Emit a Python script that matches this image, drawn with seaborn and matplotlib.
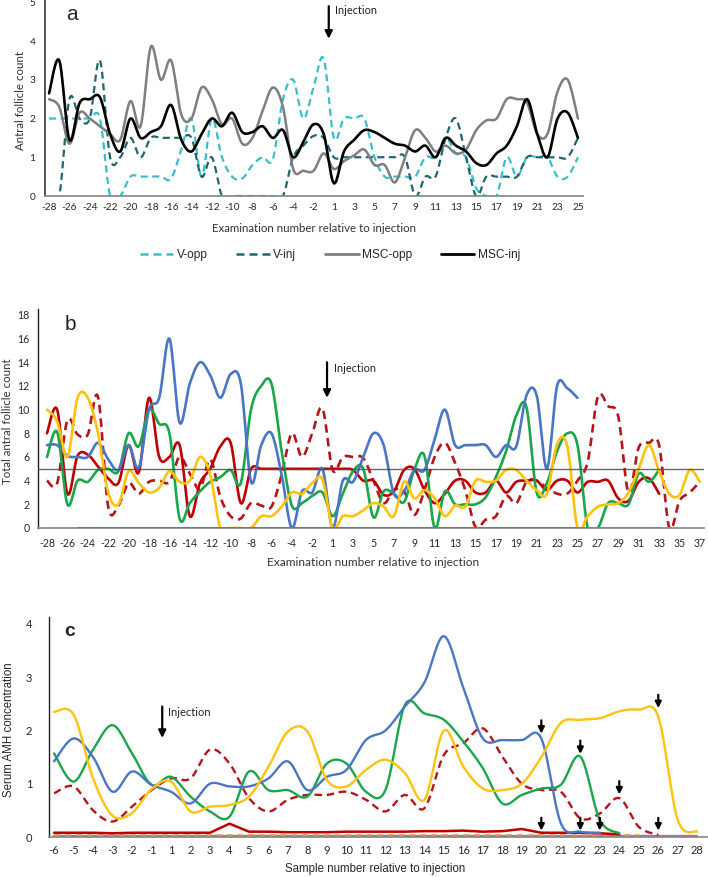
import numpy as np
import matplotlib
matplotlib.use("Agg")
import matplotlib.pyplot as plt
import seaborn as sns

# ---------------- panel a : antral follicle count per ovary ----------------
a_labels = list(range(-28, 0)) + list(range(1, 26))
a_v_opp = [2.0, 2.0, 2.0, 2.0, 2.0, 2.0, 0.0, 0.0, 0.5, 0.5, 0.5, 0.5, 0.45, 1.2,
           2.0, 0.5, 2.0, 1.0, 0.5, 0.45, 0.8, 1.0, 0.95, 2.5, 3.0, 2.0, 2.8, 3.55,
           1.5, 2.0, 2.0, 2.0, 1.0, 0.5, 0.5, 0.5, 0.5, 1.0, 1.0, 1.5, 1.1, 1.0,
           0.2, 0.0, 0.0, 1.0, 0.5, 1.0, 1.0, 1.0, 0.5, 0.5, 1.0]
a_v_inj = [0.0, 0.0, 2.5, 2.0, 2.0, 3.5, 1.0, 1.0, 1.5, 1.0, 1.5, 1.5, 1.5, 1.5,
           1.5, 0.5, 1.0, 0.0, 0.0, 0.0, 0.0, 0.0, 0.0, 0.0, 1.0, 1.3, 1.55, 1.5,
           1.0, 1.0, 1.0, 1.0, 1.0, 1.0, 1.0, 1.0, 0.0, 0.5, 0.5, 1.5, 2.0, 1.0,
           0.0, 0.5, 0.5, 0.5, 0.5, 1.0, 1.0, 1.0, 1.0, 1.0, 1.5]
a_msc_opp = [2.5, 2.3, 1.35, 2.15, 2.0, 1.8, 1.6, 1.45, 2.45, 1.8, 3.85, 3.0, 3.5, 2.1,
             2.0, 2.8, 2.5, 1.85, 2.0, 1.35, 1.5, 2.2, 2.8, 2.3, 0.7, 0.65, 0.65, 1.1,
             0.7, 0.9, 1.05, 1.2, 0.8, 0.8, 0.35, 1.0, 1.7, 1.5, 1.15, 1.3, 1.1, 1.2,
             1.7, 1.95, 2.0, 2.5, 2.5, 2.4, 1.6, 1.6, 2.7, 3.0, 2.0]
a_msc_inj = [2.65, 3.5, 1.45, 2.4, 2.5, 2.55, 1.6, 1.15, 2.0, 1.5, 1.65, 1.8, 2.35, 1.45,
             1.15, 1.6, 2.0, 1.8, 2.15, 1.65, 1.65, 1.8, 1.5, 1.7, 1.0, 1.4, 1.85, 1.6,
             0.33, 1.15, 1.45, 1.7, 1.65, 1.5, 1.35, 1.3, 1.15, 1.3, 1.0, 1.5, 1.3, 1.15,
             0.85, 0.8, 1.1, 1.3, 1.8, 2.5, 1.6, 1.0, 2.0, 2.15, 1.5]

# ---------------- panel b : total antral follicle count ----------------
b_labels = list(range(-28, 0)) + list(range(1, 38))
b_blue = [7.0, 7.0, 6.1, 6.0, 6.0, 7.2, 5.8, 4.9, 7.0, 5.1, 10.0, 11.0, 16.0, 8.9,
          12.2, 14.0, 12.9, 11.0, 13.0, 12.2, 3.9, 7.0, 8.0, 4.5, 0.0, 3.1, 3.0, 5.0,
          0.0, 4.0, 3.9, 6.0, 8.0, 7.0, 2.9, 3.1, 4.9, 4.9, 7.5, 10.0, 7.0, 7.0,
          7.0, 7.0, 6.0, 7.0, 6.9, 11.2, 11.2, 5.0, 12.0, 11.8, 11.0]
b_green = [6.0, 8.1, 2.0, 4.0, 3.9, 4.9, 5.0, 4.8, 8.0, 6.9, 10.0, 8.8, 8.0, 0.8,
           2.1, 3.1, 3.9, 4.3, 4.9, 3.8, 10.0, 12.0, 12.2, 6.5, 1.9, 2.1, 2.7, 3.0,
           1.0, 2.9, 4.8, 5.0, 0.9, 3.1, 2.9, 2.2, 4.9, 6.1, 0.0, 3.1, 2.0, 2.0,
           2.0, 2.6, 4.3, 6.5, 9.5, 10.2, 3.0, 3.8, 6.5, 8.0, 7.0, 0.0, 0.0, 2.1,
           2.1, 2.0, 4.6, 3.9, 4.9]
b_red = [8.0, 10.0, 2.9, 6.1, 6.2, 5.2, 4.2, 3.8, 7.0, 4.7, 11.0, 6.0, 6.0, 7.0,
         1.0, 3.8, 5.0, 6.9, 7.2, 2.1, 5.0, 5.0, 5.0, 5.0, 5.0, 5.0, 5.0, 5.0,
         5.0, 5.0, 4.9, 4.0, 4.0, 2.8, 3.1, 4.9, 5.0, 3.2, 2.1, 2.9, 4.0, 4.0,
         3.0, 3.0, 4.0, 3.0, 3.9, 4.0, 4.0, 3.2, 4.0, 4.0, 3.0, 3.9, 3.9, 4.0,
         2.5, 2.3, 3.9, 4.2, 2.9]
b_red_dash = [4.0, 3.8, 9.1, 7.9, 7.9, 11.1, 1.8, 1.9, 3.8, 2.9, 3.9, 4.0, 3.9, 6.0,
              4.6, 3.3, 5.8, 2.6, 1.0, 0.8, 2.1, 1.9, 1.8, 4.5, 8.0, 6.0, 8.0, 10.1,
              4.9, 6.0, 6.0, 5.9, 4.0, 2.1, 3.2, 3.1, 1.1, 3.2, 6.0, 7.2, 5.5, 3.2,
              0.1, 0.7, 1.0, 2.7, 2.1, 3.9, 4.0, 3.4, 2.9, 2.9, 4.0, 5.6, 11.1, 10.3,
              9.4, 3.0, 6.8, 7.2, 7.0, 0.0, 2.3, 3.0, 3.9]
b_yellow = [10.0, 9.0, 6.0, 11.0, 11.0, 8.0, 3.0, 2.0, 4.8, 3.8, 3.0, 3.4, 4.8, 3.9,
            4.0, 6.0, 4.5, 0.0, 0.0, 0.0, 0.0, 1.0, 1.0, 1.8, 3.0, 2.9, 3.8, 4.1,
            0.0, 1.0, 1.0, 1.5, 2.1, 1.8, 1.0, 3.9, 2.5, 3.2, 2.5, 1.0, 1.9, 1.8,
            4.0, 3.9, 4.0, 4.9, 4.9, 4.0, 3.2, 2.9, 7.1, 6.9, 0.0, 1.0, 1.8, 2.0,
            2.1, 3.0, 5.0, 7.0, 4.8, 2.9, 2.8, 4.9, 3.9]
b_orange = [0.0, 0.0, 0.0, 0.0]                      # -28 .. -25
b_brown = [0.0, 0.0, 0.0, 0.0, 0.0, 0.0, 0.0, 0.0, 0.0, 0.0, 0.0, 0.0, 0.0,
           0.0, 0.0, 0.0, 0.0, 0.0, 0.0, 0.0, 0.0, 0.0, 0.0, 0.0, 0.0, 0.0,
           0.0, 0.0, 0.0, 0.0, 0.0, 0.0, 0.0, 0.0, 0.0, 0.0, 0.0, 0.0, 0.0,
           0.0, 0.0, 0.0, 0.0, 0.0, 0.0, 0.0, 0.0, 0.0, 0.0, 0.0, 0.0]   # -25 .. 25
b_magenta = [0.0, 0.0, 0.0, 0.0, 0.0, 0.0, 0.0, 0.0, 0.0]          # 25 .. 33
b_threshold = 5

# ---------------- panel c : serum AMH ----------------
c_labels = list(range(-6, 0)) + list(range(1, 29))
c_yellow = [2.35, 2.3, 1.1, 0.4, 0.45, 0.9, 1.04, 0.48, 0.57, 0.6, 0.76, 1.32, 1.98,
            1.98, 1.07, 0.95, 1.26, 1.45, 1.2, 0.7, 2.0, 1.32, 0.91, 0.88, 1.0, 1.5,
            2.14, 2.2, 2.23, 2.36, 2.39, 2.26, 0.32, 0.1]
c_blue = [1.42, 1.85, 1.5, 0.85, 1.23, 0.98, 0.85, 0.63, 1.0, 0.95, 0.95, 1.1, 1.42,
          0.88, 1.13, 1.26, 1.82, 2.0, 2.45, 2.9, 3.77, 2.8, 1.85, 1.82, 1.82, 1.85,
          0.26, 0.1, 0.08]
c_green = [1.57, 1.04, 1.64, 2.1, 1.57, 0.98, 1.13, 0.76, 0.48, 0.38, 1.23, 0.88, 0.88,
           0.76, 1.38, 1.38, 0.85, 0.88, 2.48, 2.32, 2.2, 1.79, 1.29, 0.63, 0.79, 0.91,
           0.98, 1.51, 0.32, 0.07]
c_red_dash = [0.82, 0.95, 0.5, 0.29, 0.57, 0.88, 1.1, 1.1, 1.64, 1.38, 0.73, 0.48, 0.7,
              0.79, 0.79, 0.85, 0.7, 0.48, 0.79, 0.54, 1.54, 1.76, 2.04, 1.51, 1.0, 0.88,
              0.85, 0.35, 0.44, 0.73, 0.19, 0.04]
c_red = [0.08, 0.08, 0.08, 0.07, 0.08, 0.08, 0.08, 0.08, 0.08, 0.25, 0.1, 0.1, 0.09,
         0.09, 0.09, 0.1, 0.1, 0.1, 0.1, 0.11, 0.11, 0.12, 0.1, 0.11, 0.15, 0.08, 0.08,
         0.08, 0.07, 0.05]
c_orange = [0.04, 0.04, 0.04, 0.04, 0.04, 0.04, 0.04, 0.04, 0.04, 0.04, 0.04, 0.04,
            0.04, 0.04, 0.04, 0.04, 0.04, 0.04, 0.04, 0.04, 0.04, 0.04, 0.04, 0.04,
            0.04, 0.04, 0.04, 0.04, 0.04, 0.04, 0.04]          # -6 .. 25
c_olive = [0.02, 0.02, 0.02, 0.02, 0.02, 0.02, 0.02, 0.02, 0.02, 0.02, 0.02, 0.02,
           0.02, 0.02, 0.02, 0.02, 0.02, 0.02, 0.02, 0.02, 0.02, 0.02, 0.02, 0.02,
           0.02, 0.02]                                          # -6 .. 20
c_magenta = [0.02, 0.02, 0.02, 0.02, 0.02, 0.02, 0.02, 0.02, 0.02]   # 20 .. 28
# end-of-study markers: (sample, tip value, tail value)
c_marks = [(20, 1.94, 2.19), (22, 1.56, 1.81), (24, 0.8, 1.05), (26, 2.42, 2.67),
           (20, 0.12, 0.36), (22, 0.12, 0.36), (23, 0.12, 0.36), (26, 0.12, 0.36)]


def smooth(xs, ys, n=14):
    # excel style smoothed line: bezier through every point
    pts = np.column_stack([xs, ys]).astype(float)
    p = np.vstack([pts[0], pts, pts[-1]])
    t = np.linspace(0, 1, n, endpoint=False)[:, None]
    out = []
    for k in range(1, len(p) - 2):
        p0, p1, p2, p3 = p[k - 1], p[k], p[k + 1], p[k + 2]
        c1 = p1 + (p2 - p0) / 6
        c2 = p2 - (p3 - p1) / 6
        out.append((1 - t) ** 3 * p1 + 3 * (1 - t) ** 2 * t * c1
                   + 3 * (1 - t) * t ** 2 * c2 + t ** 3 * p2)
    out.append(pts[-1:])
    res = np.vstack(out)
    return res[:, 0], res[:, 1]


def draw(ax, labels, values, start, color, lw, ls="-", curve=True, z=2):
    i0 = labels.index(start)
    xs = np.arange(i0, i0 + len(values))
    if curve and len(values) > 2:
        xs, ys = smooth(xs, values)
    else:
        ys = np.asarray(values, dtype=float)
    sns.lineplot(x=xs, y=ys, ax=ax, color=color, lw=lw, linestyle=ls,
                 sort=False, estimator=None, zorder=z)


def arrow(ax, x, tip, tail, lw=1.6, ms=11):
    ax.annotate("", xy=(x, tip), xytext=(x, tail),
                arrowprops=dict(arrowstyle="-|>", color="black", lw=lw,
                                mutation_scale=ms, shrinkA=0, shrinkB=0))


sns.set_style("white")
plt.rcParams["font.family"] = ["Lato", "DejaVu Sans"]

fig = plt.figure(figsize=(7.08, 8.77), dpi=100)
W, H = 708, 877

dash = (0, (3.2, 2.0))

# ---- panel a
ax_a = fig.add_axes([45 / W, 1 - 196 / H, 538 / W, 196 / H])
draw(ax_a, a_labels, a_v_opp, -28, "#37BFCB", 1.6, dash)
draw(ax_a, a_labels, a_v_inj, -28, "#1D6870", 1.6, dash)
draw(ax_a, a_labels, a_msc_opp, -28, "#7F7F7F", 1.8)
draw(ax_a, a_labels, a_msc_inj, -28, "#000000", 1.9, z=3)
ax_a.set_xlim(-0.4, 52.5)
ax_a.set_ylim(0, 5.06)
ax_a.set_xticks(np.arange(0, len(a_labels), 2))
ax_a.set_xticklabels([str(v) for v in a_labels[::2]], fontsize=7.3)
ax_a.set_yticks(range(0, 6))
ax_a.tick_params(axis="y", labelsize=7.3, length=0, pad=7)
ax_a.tick_params(axis="x", length=0, pad=5)
arrow(ax_a, 27.5, 4.06, 4.9)
ax_a.text(28.1, 4.8, "Injection", fontsize=7.8, va="center", color="#222222")

# ---- panel b
ax_b = fig.add_axes([38 / W, 1 - 528 / H, 666 / W, 219 / H])
draw(ax_b, b_labels, b_orange, -28, "#F4A974", 1.8, (0, (2.5, 1.8)), curve=False)
draw(ax_b, b_labels, b_brown, -25, "#B8602C", 2.0, curve=False, z=3)
draw(ax_b, b_labels, b_magenta, 25, "#CC4FCC", 2.0, curve=False, z=3)
draw(ax_b, b_labels, b_red_dash, -28, "#B8141A", 1.9, dash)
draw(ax_b, b_labels, b_red, -28, "#C00000", 1.9)
draw(ax_b, b_labels, b_green, -28, "#1AA64A", 1.9)
draw(ax_b, b_labels, b_blue, -28, "#4A76C6", 1.9)
draw(ax_b, b_labels, b_yellow, -28, "#FFC20E", 1.9)
ax_b.axhline(b_threshold, color="#4D4D4D", lw=1.0, alpha=0.85, zorder=5)
ax_b.set_xlim(-0.88, 64.4)
ax_b.set_ylim(0, 18.5)
ax_b.set_xticks(np.arange(0, len(b_labels), 2))
ax_b.set_xticklabels([str(v) for v in b_labels[::2]], fontsize=7.6)
ax_b.set_yticks(range(0, 19, 2))
ax_b.tick_params(axis="y", labelsize=7.6, length=0, pad=6)
ax_b.tick_params(axis="x", length=0, pad=7)
arrow(ax_b, 27.45, 11.0, 14.0)
ax_b.text(28.1, 13.5, "Injection", fontsize=7.8, va="center", color="#222222")

# ---- panel c
ax_c = fig.add_axes([49 / W, 1 - 837 / H, 658 / W, 220 / H])
draw(ax_c, c_labels, c_olive, -6, "#8E8A3C", 1.6, curve=False)
draw(ax_c, c_labels, c_magenta, 20, "#CC55CC", 1.6, curve=False)
draw(ax_c, c_labels, c_orange, -6, "#F08A4B", 1.8, (0, (2.5, 1.8)), curve=False)
draw(ax_c, c_labels, c_red, -6, "#C00000", 1.8, curve=False)
draw(ax_c, c_labels, c_red_dash, -6, "#B8141A", 1.7, dash)
draw(ax_c, c_labels, c_green, -6, "#1AA64A", 1.7)
draw(ax_c, c_labels, c_blue, -6, "#4A76C6", 1.7)
draw(ax_c, c_labels, c_yellow, -6, "#FFC20E", 1.7)
ax_c.set_xlim(-0.26, 33.5)
ax_c.set_ylim(0, 4.13)
ax_c.set_xticks(np.arange(len(c_labels)))
ax_c.set_xticklabels([str(v) for v in c_labels], fontsize=8)
ax_c.set_yticks(range(0, 5))
ax_c.tick_params(axis="y", labelsize=8, length=0, pad=12)
ax_c.tick_params(axis="x", length=0, pad=6)
arrow(ax_c, 5.55, 1.86, 2.45)
ax_c.text(5.85, 2.33, "Injection", fontsize=8, va="center", color="#222222")
for s, tip, tail in c_marks:
    arrow(ax_c, c_labels.index(s), tip, tail, lw=1.6, ms=9)

for ax in (ax_a, ax_b, ax_c):
    sns.despine(ax=ax)
    ax.spines["bottom"].set_color("#8C8C8C")
    ax.spines["bottom"].set_linewidth(1.3)
    ax.spines["left"].set_color("#222222")
    ax.spines["left"].set_linewidth(1.0)
    ax.set_xlabel("")
    ax.set_ylabel("")
ax_a.spines["left"].set_color("#555555")
ax_a.spines["left"].set_linewidth(1.4)

# axis titles and panel letters
fig.text(21 / W, 1 - 100 / H, "Antral follicle count", rotation=90, fontsize=8.3,
         ha="center", va="center", color="#333333")
fig.text(314 / W, 1 - 228 / H, "Examination number relative to injection", fontsize=8.3,
         ha="center", va="center", color="#333333")
fig.text(8 / W, 1 - 421 / H, "Total antral follicle count", rotation=90, fontsize=8.3,
         ha="center", va="center", color="#333333")
fig.text(373 / W, 1 - 562 / H, "Examination number relative to injection", fontsize=8.6,
         ha="center", va="center", color="#333333")
fig.text(9 / W, 1 - 730 / H, "Serum AMH concentration", rotation=90, fontsize=8.3,
         ha="center", va="center", family=["Liberation Sans", "DejaVu Sans"])
fig.text(375 / W, 1 - 869 / H, "Sample number relative to injection", fontsize=8.3,
         ha="center", va="center", family=["Liberation Sans", "DejaVu Sans"])
fig.text(72 / W, 1 - 14 / H, "a", fontsize=15, ha="center", va="center",
         family=["Liberation Sans", "DejaVu Sans"])
fig.text(70 / W, 1 - 324 / H, "b", fontsize=15, ha="center", va="center",
         family=["Liberation Sans", "DejaVu Sans"])
fig.text(70 / W, 1 - 632 / H, "c", fontsize=14, ha="center", va="center",
         fontweight="bold", family=["Liberation Sans", "DejaVu Sans"])

# legend for panel a
handles = [plt.Line2D([], [], color="#37BFCB", lw=1.8, linestyle=dash),
           plt.Line2D([], [], color="#1D6870", lw=1.8, linestyle=dash),
           plt.Line2D([], [], color="#7F7F7F", lw=2.0),
           plt.Line2D([], [], color="#000000", lw=2.0)]
fig.legend(handles, ["V-opp", "V-inj", "MSC-opp", "MSC-inj"], loc="center",
           bbox_to_anchor=(330 / W, 1 - 255 / H), ncol=4, frameon=False,
           prop={"family": ["Liberation Sans", "DejaVu Sans"], "size": 8.6},
           handlelength=2.8, handletextpad=0.3, columnspacing=2.4)

fig.savefig("out.png", dpi=100)
